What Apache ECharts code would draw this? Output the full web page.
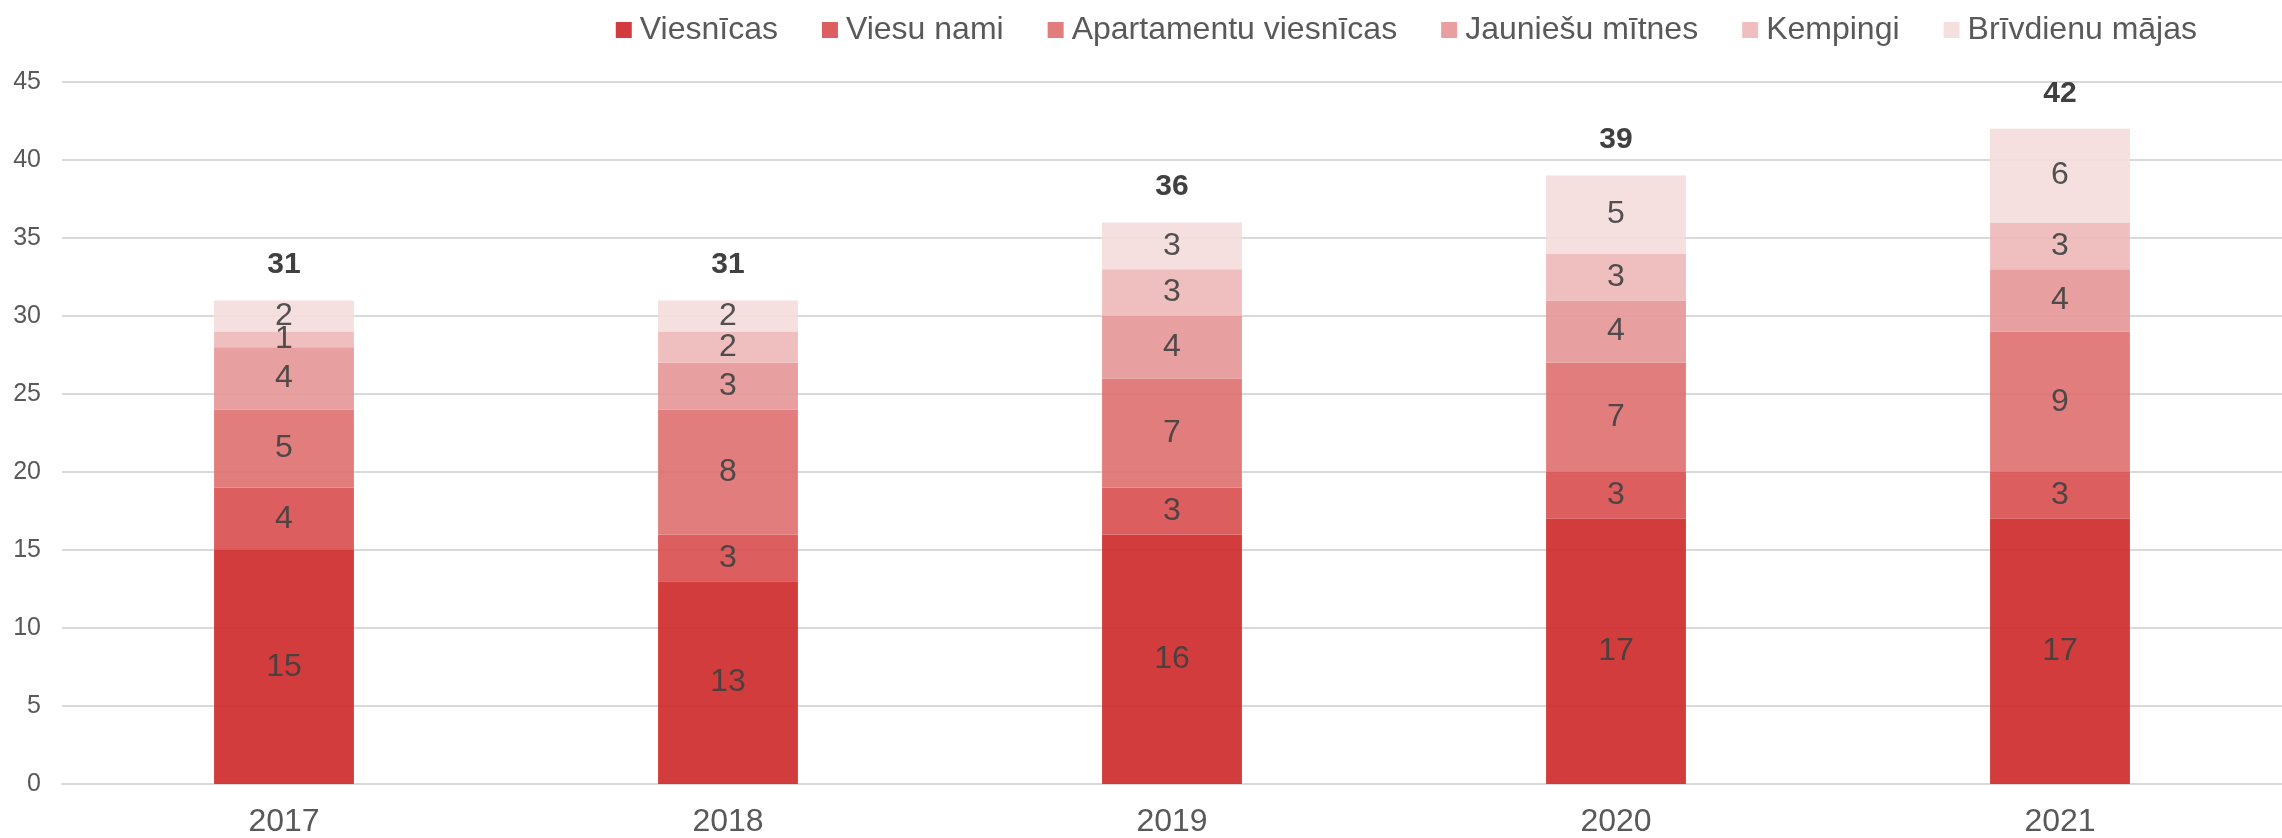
<!DOCTYPE html>
<html>
<head>
<meta charset="utf-8">
<script src="https://cdn.jsdelivr.net/npm/echarts@6/dist/echarts.min.js"></script>
<style>
  html, body { margin: 0; padding: 0; background: #fff; }
  #main { width: 2282px; height: 838px; }
</style>
</head>
<body>
<div id="main"></div>
<script>
var years = ['2017', '2018', '2019', '2020', '2021'];
var seriesNames = ['Viesnīcas', 'Viesu nami', 'Apartamentu viesnīcas', 'Jauniešu mītnes', 'Kempingi', 'Brīvdienu mājas'];
var viesnicas = [15, 13, 16, 17, 17];
var viesuNami = [4, 3, 3, 3, 3];
var apartamenti = [5, 8, 7, 7, 9];
var jauniesuMitnes = [4, 3, 4, 4, 4];
var kempingi = [1, 2, 3, 3, 3];
var brivdienuMajas = [2, 2, 3, 5, 6];
var yTicks = [0, 5, 10, 15, 20, 25, 30, 35, 40, 45];

var colors = ['#ce2727', '#d84c4c', '#df6f6f', '#e59595', '#edb8b8', '#f4dbdb'];
var allData = [viesnicas, viesuNami, apartamenti, jauniesuMitnes, kempingi, brivdienuMajas];

// kopsummas virs stabiņiem
var totals = years.map(function (y, i) {
    var s = 0;
    allData.forEach(function (arr) { s += arr[i]; });
    return s;
});

var myChart = echarts.init(document.getElementById('main'));

var series = seriesNames.map(function (name, k) {
    return {
        name: name,
        type: 'bar',
        stack: 'total',
        barWidth: '31.5%',
        data: allData[k],
        itemStyle: { color: colors[k], opacity: 0.9 },
        label: {
            show: true,
            position: 'inside',
            color: '#404040',
            fontFamily: 'Liberation Sans, Arial',
            fontSize: 32
        }
    };
});

series.push({
    name: 'Kopā',
    type: 'line',
    data: totals,
    symbol: 'circle',
    symbolSize: 1,
    itemStyle: { color: 'rgba(0,0,0,0)' },
    lineStyle: { opacity: 0 },
    silent: true,
    label: {
        show: true,
        position: 'top',
        distance: 20,
        color: '#404040',
        fontFamily: 'Liberation Sans, Arial',
        fontWeight: 'bold',
        fontSize: 30
    }
});

option = {
    animation: false,
    color: colors,
    legend: {
        data: seriesNames,
        right: 80,
        top: 9,
        itemWidth: 16,
        itemHeight: 16,
        itemGap: 44,
        icon: 'rect',
        textStyle: {
            color: '#595959',
            fontFamily: 'Liberation Sans, Arial',
            fontSize: 32,
            padding: [0, 0, 0, 3]
        }
    },
    grid: {
        left: 62,
        right: 0,
        top: 82,
        bottom: 54
    },
    xAxis: {
        type: 'category',
        data: years,
        axisLine: { lineStyle: { color: '#d9d9d9', width: 2 } },
        axisTick: { show: false },
        axisLabel: {
            color: '#595959',
            fontFamily: 'Liberation Sans, Arial',
            fontSize: 32,
            margin: 22
        }
    },
    yAxis: {
        type: 'value',
        min: yTicks[0],
        max: yTicks[yTicks.length - 1],
        interval: 5,
        axisLine: { show: false },
        axisTick: { show: false },
        splitLine: { lineStyle: { color: '#d9d9d9', width: 2 } },
        axisLabel: {
            color: '#595959',
            fontFamily: 'Liberation Sans, Arial',
            fontSize: 25,
            margin: 21
        }
    },
    series: series
};

myChart.setOption(option);
</script>
</body>
</html>
